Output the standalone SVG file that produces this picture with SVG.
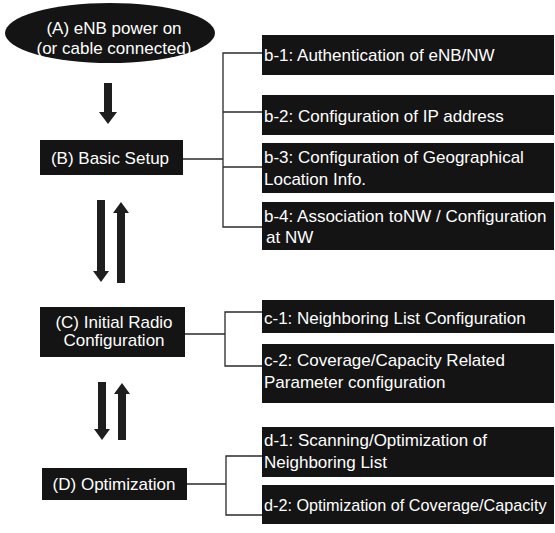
<svg xmlns="http://www.w3.org/2000/svg" width="555" height="533" viewBox="0 0 555 533">
  <style>
    .box { fill: #141414; }
    .lbl { font-family: "Liberation Sans", Arial, sans-serif; font-size: 17px; fill: #ffffff; }
    .mid { text-anchor: middle; }
    .wire { fill: none; stroke: #2a2a2a; stroke-width: 1.3; }
    .arrow { fill: #1e1e1e; }
  </style>
  <rect width="555" height="533" fill="#ffffff"/>

  <!-- connectors: brackets from each stage to its sub-steps, and flow arrows -->
  <g id="connectors">
    <path class="wire" d="M183 159 H223 M262 53 H223 V227 H262 M223 112 H262 M223 167 H262"/>
    <path class="wire" d="M185 334 H225 M262 312 H225 V366 H262"/>
    <path class="wire" d="M187 484 H226 M262 456 H226 V515 H262"/>
    <!-- A to B -->
    <polygon class="arrow" points="104,83 112,83 112,112 117,112 108,124 99,112 104,112"/>
    <!-- B <-> C -->
    <polygon class="arrow" points="97,200 105,200 105,271 109,271 101,282 93,271 97,271"/>
    <polygon class="arrow" points="121,202 129,213 125,213 125,283 117,283 117,213 113,213"/>
    <!-- C <-> D -->
    <polygon class="arrow" points="98,382 106,382 106,429 110,429 102,440 94,429 98,429"/>
    <polygon class="arrow" points="122,383 130,394 126,394 126,440 118,440 118,394 114,394"/>
  </g>

  <g id="stageA">
    <ellipse cx="110" cy="33" rx="105" ry="30" class="box"/>
    <text class="lbl mid" x="114" y="34">(A) eNB power on</text>
    <text class="lbl mid" x="114" y="54">(or cable connected)</text>
  </g>

  <g id="stageB">
    <rect class="box" x="40" y="140" width="143" height="35"/>
    <text class="lbl mid" x="110" y="164">(B) Basic Setup</text>
  </g>

  <g id="stageC">
    <rect class="box" x="40" y="307" width="145" height="50"/>
    <text class="lbl mid" x="114" y="328">(C) Initial Radio</text>
    <text class="lbl mid" x="114" y="346">Configuration</text>
  </g>

  <g id="stageD">
    <rect class="box" x="42" y="468" width="145" height="32"/>
    <text class="lbl mid" x="114" y="490">(D) Optimization</text>
  </g>

  <g id="b1">
    <rect class="box" x="262" y="35" width="292" height="40"/>
    <text class="lbl" x="264" y="61">b-1: Authentication of eNB/NW</text>
  </g>
  <g id="b2">
    <rect class="box" x="262" y="95" width="292" height="40"/>
    <text class="lbl" x="264" y="122">b-2: Configuration of IP address</text>
  </g>
  <g id="b3">
    <rect class="box" x="262" y="143" width="292" height="50"/>
    <text class="lbl" x="264" y="163">b-3: Configuration of Geographical</text>
    <text class="lbl" x="264" y="185">Location Info.</text>
  </g>
  <g id="b4">
    <rect class="box" x="262" y="202" width="292" height="48"/>
    <text class="lbl" x="264" y="222">b-4: Association toNW / Configuration</text>
    <text class="lbl" x="266" y="243">at NW</text>
  </g>

  <g id="c1">
    <rect class="box" x="262" y="300" width="292" height="33"/>
    <text class="lbl" x="264" y="324">c-1: Neighboring List Configuration</text>
  </g>
  <g id="c2">
    <rect class="box" x="262" y="344" width="292" height="59"/>
    <text class="lbl" x="264" y="366">c-2: Coverage/Capacity Related</text>
    <text class="lbl" x="264" y="388">Parameter configuration</text>
  </g>

  <g id="d1">
    <rect class="box" x="262" y="427" width="292" height="50"/>
    <text class="lbl" x="264" y="446">d-1: Scanning/Optimization of</text>
    <text class="lbl" x="264" y="468">Neighboring List</text>
  </g>
  <g id="d2">
    <rect class="box" x="262" y="485" width="292" height="39"/>
    <text class="lbl" x="264" y="511" style="font-size:16.2px">d-2: Optimization of Coverage/Capacity</text>
  </g>
</svg>
